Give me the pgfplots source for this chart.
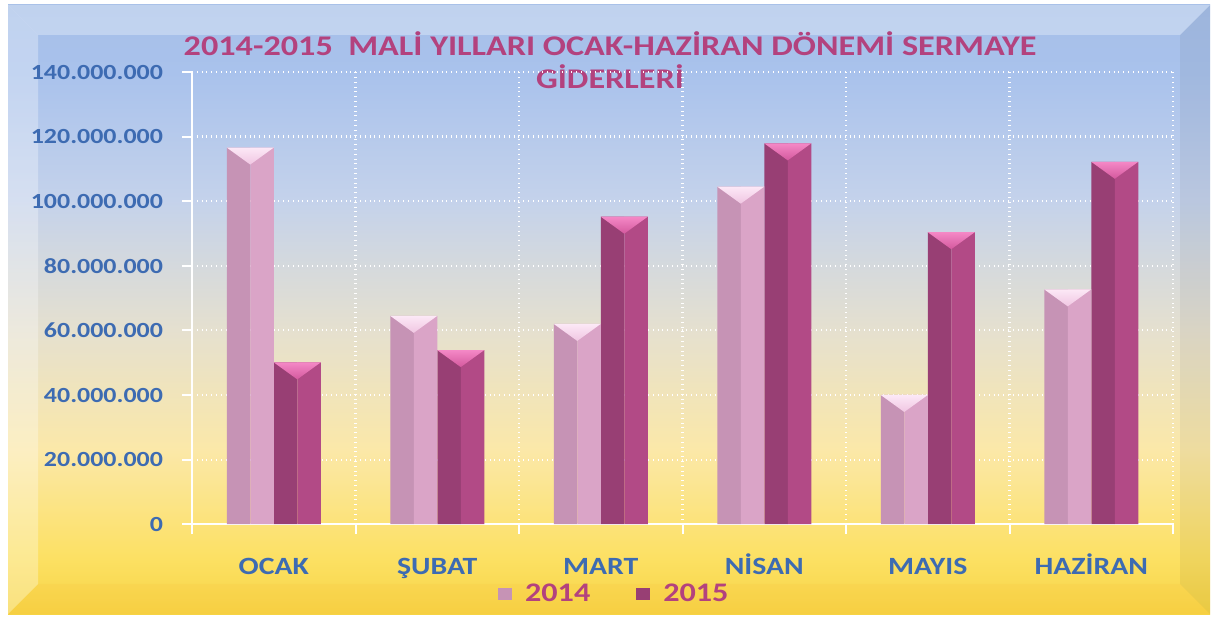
\documentclass[border=0pt]{standalone}
\usepackage{fontspec}
\setmainfont{Carlito}[FakeStretch=1.2]
\usepackage{pgfplots}
\pgfplotsset{compat=1.18}
\usepackage{pgfplotstable}

\definecolor{labblue}{HTML}{3D6BB2}
\definecolor{titmag}{HTML}{B3427E}
\definecolor{bgA}{HTML}{F6D445}
\definecolor{bgB}{HTML}{FCE062}
\definecolor{bgC}{HTML}{FBE8A8}
\definecolor{bgD}{HTML}{E5E0CF}
\definecolor{bgE}{HTML}{C4D2EB}
\definecolor{bgF}{HTML}{A9C2EC}
\definecolor{bgG}{HTML}{A6BFE8}
\definecolor{pL}{HTML}{C693B5}
\definecolor{pR}{HTML}{DAA4C7}
\definecolor{mL}{HTML}{983F74}
\definecolor{mR}{HTML}{B24A86}
\definecolor{capPt}{HTML}{FCE8F6}
\definecolor{capPb}{HTML}{F0C6E2}
\definecolor{capMt}{HTML}{F488C6}
\definecolor{capMb}{HTML}{D4599E}

\pgfdeclareverticalshading{bgshade}{100bp}{color(0bp)=(bgA); color(25bp)=(bgA); color(29.43bp)=(bgB); color(38.46bp)=(bgC); color(48.32bp)=(bgD); color(58.99bp)=(bgE); color(69.42bp)=(bgF); color(75bp)=(bgG); color(100bp)=(bgG)}

\pgfdeclareplotmark{capP}{%
  \shade[draw=none, top color=capPt, bottom color=capPb] (-23.5pt,0pt) -- (0pt,0pt) -- (-11.75pt,-8.5pt) -- cycle;}
\pgfdeclareplotmark{capM}{%
  \shade[draw=none, top color=capMt, bottom color=capMb] (0pt,0pt) -- (23.5pt,0pt) -- (11.75pt,-8.5pt) -- cycle;}

\pgfplotstableread{
x v14 v15
0 116600000 50100000
1 64500000 53900000
2 62000000 95200000
3 104500000 117900000
4 40000000 90400000
5 72700000 112200000
}\data

\begin{document}
\begin{tikzpicture}
\begin{scope}[x=0.5pt,y=-0.5pt]
  \fill[white] (0,0) rectangle (1215,619);
  \shade[shading=bgshade] (8,5) rectangle (1210,614);
  \fill[white,opacity=0.30] (8,5) -- (1210,5) -- (1180,35) -- (38,35) -- cycle;
  \fill[white,opacity=0.30] (8,5) -- (38,35) -- (38,584) -- (8,614) -- cycle;
  \fill[black,opacity=0.05] (1210,5) -- (1210,614) -- (1180,584) -- (1180,35) -- cycle;
  \fill[orange,opacity=0.05] (8,614) -- (1210,614) -- (1180,584) -- (38,584) -- cycle;
  \node[text=titmag, font=\bfseries\fontsize{14.25}{16.5}\selectfont, align=center] at (610,60)
    {2014-2015\ \ MALİ YILLARI OCAK-HAZİRAN DÖNEMİ SERMAYE\\GİDERLERİ};
\end{scope}
\begin{axis}[
  at={(96pt,-262.1pt)}, anchor=south west,
  width=490.5pt, height=226.1pt, scale only axis,
  xmin=-0.5, xmax=5.5, ymin=0, ymax=140000000,
  axis x line*=bottom, axis y line*=left,
  axis line style={white, line width=1.2pt},
  xtick={0,1,2,3,4,5},
  xticklabels={OCAK,ŞUBAT,MART,NİSAN,MAYIS,HAZİRAN},
  major x tick style={draw=none},
  minor xtick={-0.5,0.5,1.5,2.5,3.5,4.5,5.5},
  minor x tick style={white, line width=1pt},
  xminorgrids, minor x grid style={white, dotted, line width=1.1pt},
  ytick={0,20000000,40000000,60000000,80000000,100000000,120000000,140000000},
  ymajorgrids, major y grid style={white, dotted, line width=1.1pt},
  y tick style={white, line width=1pt},
  tick align=outside, major tick length=5pt, minor tick length=5pt,
  scaled y ticks=false,
  yticklabel style={font=\bfseries\fontsize{10.8}{12}\selectfont, text=labblue, xshift=-6pt,
    /pgf/number format/.cd, fixed, precision=0, 1000 sep={.}, assume math mode=true},
  xticklabel style={font=\bfseries\fontsize{12.4}{13}\selectfont, text=labblue, anchor=base, yshift=-20pt},
  legend style={at={(0.4315,-0.1544)}, anchor=center, draw=none, fill=none,
    legend columns=2, font=\bfseries\fontsize{13.4}{14}\selectfont, text=titmag,
    /tikz/every odd column/.append style={column sep=4.5pt},
    /tikz/every even column/.append style={column sep=21pt}},
  legend image code/.code={\fill[#1] (0pt,-3.2pt) rectangle (7pt,3.2pt);},
]
\addplot[ybar, bar width=11.75pt, bar shift=-17.625pt, draw=none, fill=pL] table[x=x,y=v14]{\data};
\addlegendentry{2014}
\addplot[ybar, bar width=11.75pt, bar shift=5.875pt, draw=none, fill=mL] table[x=x,y=v15]{\data};
\addlegendentry{2015}
\addplot[ybar, bar width=11.75pt, bar shift=-5.875pt, draw=none, fill=pR, forget plot] table[x=x,y=v14]{\data};
\addplot[ybar, bar width=11.75pt, bar shift=17.625pt, draw=none, fill=mR, forget plot] table[x=x,y=v15]{\data};
\addplot[only marks, mark=capP, forget plot] table[x=x,y=v14]{\data};
\addplot[only marks, mark=capM, forget plot] table[x=x,y=v15]{\data};
\end{axis}
\end{tikzpicture}
\end{document}
